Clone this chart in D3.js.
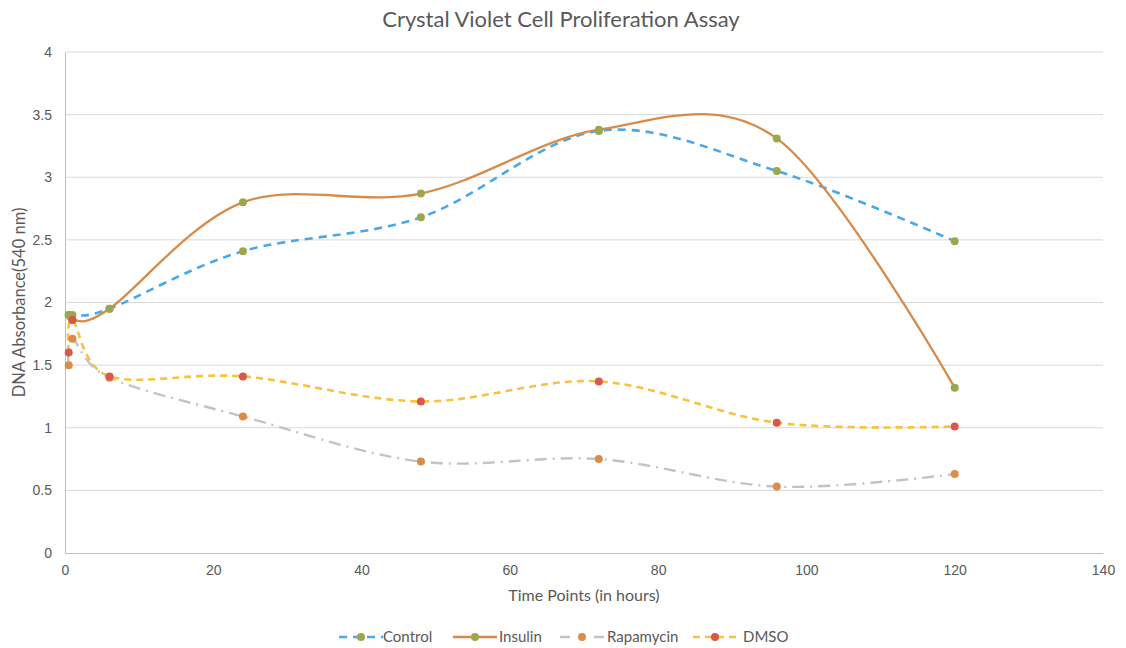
<!DOCTYPE html>
<html>
<head>
<meta charset="utf-8">
<script src="https://cdn.jsdelivr.net/npm/d3@7"></script>
<style>
  html, body { margin: 0; padding: 0; background: #fff; }
  svg { display: block; font-family: Lato, "Noto Sans", sans-serif; }
</style>
</head>
<body>
<svg id="chart" width="1126" height="648"></svg>
<script>
// Sampling times (hours)
const hours = [0.5, 1, 6, 24, 48, 72, 96, 120];

// Absorbance readings at 540 nm per treatment
const control   = [1.90, 1.90, 1.95, 2.41, 2.68, 3.37, 3.05, 2.49];
const insulin   = [1.90, 1.86, 1.95, 2.80, 2.87, 3.38, 3.31, 1.32];
const rapamycin = [1.50, 1.71, 1.40, 1.09, 0.73, 0.75, 0.53, 0.63];
const dmso      = [1.60, 1.86, 1.41, 1.41, 1.21, 1.37, 1.04, 1.01];

const xTicks = [0, 20, 40, 60, 80, 100, 120, 140];
const yTicks = [0, 0.5, 1, 1.5, 2, 2.5, 3, 3.5, 4];

const series = [
  { name: "Control",   values: control,   line: "#4aa8e8", marker: "#9da64c", width: 2.6, dash: "8,6" },
  { name: "Insulin",   values: insulin,   line: "#d98a48", marker: "#9da64c", width: 2.3, dash: null },
  { name: "Rapamycin", values: rapamycin, line: "#c3c3c3", marker: "#dd8c47", width: 2.4, dash: "12,6,2,6" },
  { name: "DMSO",      values: dmso,      line: "#f7c23e", marker: "#d9574b", width: 2.6, dash: "7,5" }
];

const svg = d3.select("#chart");
const margin = { left: 65, right: 23, top: 52, bottom: 95 };
const W = 1126, H = 648;

const x = d3.scaleLinear().domain([0, 140]).range([margin.left, W - margin.right]);
const y = d3.scaleLinear().domain([0, 4]).range([H - margin.bottom, margin.top]);

// Horizontal gridlines
svg.append("g")
  .selectAll("line")
  .data(yTicks.filter(d => d > 0))
  .join("line")
  .attr("x1", x(0)).attr("x2", x(140))
  .attr("y1", d => y(d)).attr("y2", d => y(d))
  .attr("stroke", "#d9d9d9").attr("stroke-width", 1);

// Axes
const xAxis = svg.append("g")
  .attr("transform", `translate(0,${y(0)})`)
  .call(d3.axisBottom(x).tickValues(xTicks).tickSize(0).tickPadding(12).tickFormat(d3.format("d")));
const yAxis = svg.append("g")
  .attr("transform", `translate(${x(0)},0)`)
  .call(d3.axisLeft(y).tickValues(yTicks).tickSize(0).tickPadding(13).tickFormat(d => String(d)));

[xAxis, yAxis].forEach(g => {
  g.select(".domain").attr("stroke", "#bfbfbf").attr("stroke-width", 1);
  g.selectAll("text").attr("fill", "#595959").style("font-size", "14px");
});

// Titles
svg.append("text")
  .attr("x", 561).attr("y", 27)
  .attr("text-anchor", "middle")
  .attr("fill", "#595959")
  .style("font-size", "22px")
  .text("Crystal Violet Cell Proliferation Assay");

svg.append("text")
  .attr("x", 584).attr("y", 601)
  .attr("text-anchor", "middle")
  .attr("fill", "#595959")
  .style("font-size", "16px")
  .text("Time Points (in hours)");

svg.append("text")
  .attr("transform", `translate(25,${y(2)}) rotate(-90)`)
  .attr("text-anchor", "middle")
  .attr("fill", "#595959")
  .style("font-size", "16.5px")
  .text("DNA Absorbance(540 nm)");

// Smoothed series lines and markers
const lineGen = d3.line()
  .x((d, i) => x(hours[i]))
  .y(d => y(d))
  .curve(d3.curveCardinal.tension(0));

const plot = svg.append("g");
series.forEach(s => {
  plot.append("path")
    .datum(s.values)
    .attr("d", lineGen)
    .attr("fill", "none")
    .attr("stroke", s.line)
    .attr("stroke-width", s.width)
    .attr("stroke-dasharray", s.dash);
});
series.forEach(s => {
  plot.append("g")
    .selectAll("circle")
    .data(s.values)
    .join("circle")
    .attr("cx", (d, i) => x(hours[i]))
    .attr("cy", d => y(d))
    .attr("r", 4)
    .attr("fill", s.marker);
});

// Legend
const legendX = [339, 453, 560, 693];
const textX = [383, 499, 607, 743];
const legendY = 637;
const legend = svg.append("g");
series.forEach((s, i) => {
  const g = legend.append("g").attr("transform", `translate(${legendX[i]},${legendY})`);
  g.append("line")
    .attr("x1", 0).attr("x2", 44)
    .attr("y1", 0).attr("y2", 0)
    .attr("stroke", s.line)
    .attr("stroke-width", s.width)
    .attr("stroke-dasharray", s.name === "Rapamycin" ? "10,24" : s.dash);
  g.append("circle").attr("cx", 22).attr("cy", 0).attr("r", 4).attr("fill", s.marker);
  g.append("text")
    .attr("x", textX[i] - legendX[i]).attr("y", 5)
    .attr("fill", "#595959")
    .style("font-size", "15px")
    .text(s.name);
});
</script>
</body>
</html>
